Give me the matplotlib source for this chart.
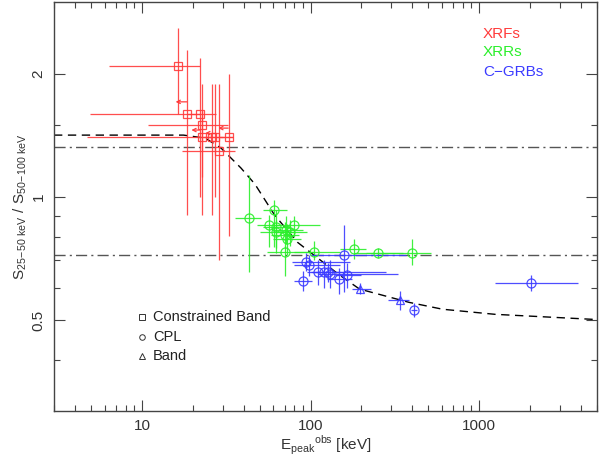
import matplotlib
matplotlib.use('Agg')
import matplotlib.pyplot as plt
from matplotlib.ticker import FixedLocator, FixedFormatter, NullFormatter

plt.rcParams['font.family'] = ['Liberation Sans', 'DejaVu Sans']
plt.rcParams['mathtext.fontset'] = 'custom'
plt.rcParams['mathtext.rm'] = 'Liberation Sans'

# XRFs (constrained Band)
xrf_ep = [16.3, 18.4, 21.9, 22.8, 22.8, 26.1, 27.2, 32.8, 28.7]
xrf_ep_lo = [6.4, 4.9, 18.4, 10.8, 4.7, 21.6, 23.2, 29.1, 17.2]
xrf_ep_hi = [21.9, 21.9, 27.5, 32.4, 26.1, 30.2, 34.6, 34.6, 35.6]
xrf_s = [2.09, 1.60, 1.60, 1.50, 1.40, 1.40, 1.40, 1.40, 1.30]
xrf_s_lo = [1.60, 0.904, 1.00, 0.904, 1.12, 0.904, 1.00, 0.803, 0.701]
xrf_s_hi = [2.59, 2.29, 2.19, 1.89, 1.62, 1.89, 1.89, 2.00, 1.89]
# upper limits on Epeak (arrows): start, end, ratio
arr_x0 = [18.4, 21.9, 24.7, 32.4]
arr_x1 = [15.8, 19.6, 23.7, 28.3]
arr_s = [1.71, 1.459, 1.434, 1.475]

# XRRs (CPL)
xrr_ep = [42.8, 60.3, 56.9, 61.9, 61.9, 71.8, 70.9, 72.8, 75.8, 80.0, 70.9, 104.8, 180, 252, 399]
xrr_ep_lo = [35.6, 51.9, 48, 52, 50, 60, 58, 60, 62, 62, 55, 80, 149, 180, 214]
xrr_ep_hi = [50.5, 72.8, 66, 75, 80, 90, 85, 88, 95, 113.7, 104, 149, 214, 353, 516]
xrr_s = [0.890, 0.929, 0.854, 0.845, 0.821, 0.830, 0.807, 0.789, 0.821, 0.854, 0.734, 0.734, 0.746, 0.729, 0.729]
xrr_s_lo = [0.655, 0.755, 0.755, 0.73, 0.75, 0.77, 0.75, 0.72, 0.76, 0.80, 0.64, 0.70, 0.705, 0.71, 0.682]
xrr_s_hi = [1.132, 0.983, 0.904, 0.93, 0.88, 0.90, 0.87, 0.86, 0.88, 0.90, 0.76, 0.78, 0.789, 0.75, 0.789]

# C-GRBs (CPL)
grb_ep = [93.2, 97.6, 90.4, 110, 119.5, 126, 130, 148, 164, 158, 410, 2037]
grb_ep_lo = [77.9, 80, 80, 95, 100, 105, 110, 125, 140, 99, 392, 1241]
grb_ep_hi = [170, 150, 102, 281, 160, 150, 330, 175, 200, 368, 430, 3860]
grb_s = [0.693, 0.681, 0.623, 0.655, 0.655, 0.655, 0.649, 0.631, 0.645, 0.720, 0.529, 0.616]
grb_s_lo = [0.66, 0.64, 0.59, 0.61, 0.60, 0.62, 0.60, 0.58, 0.60, 0.586, 0.51, 0.59]
grb_s_hi = [0.73, 0.72, 0.66, 0.70, 0.70, 0.69, 0.70, 0.67, 0.69, 0.854, 0.55, 0.645]
# C-GRBs (Band)
grbb_ep = [195, 340]
grbb_ep_lo = [175, 289]
grbb_ep_hi = [229, 383]
grbb_s = [0.596, 0.560]
grbb_s_lo = [0.58, 0.53]
grbb_s_hi = [0.615, 0.59]

# model curve
curve_ep = [3.0, 17.6, 23.7, 29.4, 38.6, 46.7, 61.1, 83.4, 149, 195, 384, 607, 1242, 5000]
curve_s = [1.418, 1.418, 1.394, 1.318, 1.178, 1.076, 0.904, 0.776, 0.644, 0.596, 0.553, 0.532, 0.517, 0.502]

# XRF/XRR and XRR/GRB boundaries
bound_s = [1.326, 0.721]

x_ticks = [10, 100, 1000]
x_labels = ['10', '100', '1000']
y_ticks = [0.5, 1, 2]
y_labels = ['0.5', '1', '2']

RED = '#ff3b3b'
GREEN = '#2bef2b'
BLUE = '#3b3bff'


def draw(ax, x, xlo, xhi, y, ylo, yhi, color, marker, ms):
    xerr = [[a - b for a, b in zip(x, xlo)], [b - a for a, b in zip(x, xhi)]]
    yerr = [[a - b for a, b in zip(y, ylo)], [b - a for a, b in zip(y, yhi)]]
    ax.errorbar(x, y, xerr=xerr, yerr=yerr, fmt=marker, ms=ms, mfc='none',
                mec=color, mew=0.9, ecolor=color, elinewidth=0.9, capsize=0, alpha=0.9)


fig = plt.figure(figsize=(6.02, 4.55), dpi=100)
ax = fig.add_axes([0.0897, 0.0967, 0.9020, 0.8989])
ax.set_xscale('log')
ax.set_yscale('log')
ax.set_xlim(3, 5000)
ax.set_ylim(0.3, 3)

for s in bound_s:
    ax.axhline(s, color='#555555', lw=1, ls=(0, (8, 3, 1.5, 3)))
ax.plot(curve_ep, curve_s, color='black', lw=1, ls=(0, (6, 4)))

draw(ax, xrf_ep, xrf_ep_lo, xrf_ep_hi, xrf_s, xrf_s_lo, xrf_s_hi, RED, 's', 5.5)
for a, b, s in zip(arr_x0, arr_x1, arr_s):
    ax.annotate('', xy=(b, s), xytext=(a, s),
                arrowprops=dict(arrowstyle='->', color=RED, lw=0.9,
                                mutation_scale=6, shrinkA=0, shrinkB=0))
draw(ax, xrr_ep, xrr_ep_lo, xrr_ep_hi, xrr_s, xrr_s_lo, xrr_s_hi, GREEN, 'o', 6.5)
draw(ax, grb_ep, grb_ep_lo, grb_ep_hi, grb_s, grb_s_lo, grb_s_hi, BLUE, 'o', 6.5)
draw(ax, grbb_ep, grbb_ep_lo, grbb_ep_hi, grbb_s, grbb_s_lo, grbb_s_hi, BLUE, '^', 6)

# class labels
ax.text(0.790, 0.922, 'XRFs', color=RED, fontsize=11, transform=ax.transAxes, va='center')
ax.text(0.790, 0.878, 'XRRs', color=GREEN, fontsize=11, transform=ax.transAxes, va='center')
ax.text(0.790, 0.829, 'C\u2212GRBs', color=BLUE, fontsize=11, transform=ax.transAxes, va='center')

# marker legend
leg_y = [0.230, 0.181, 0.134]
leg_txt = ['Constrained Band', 'CPL', 'Band']
leg_mk = ['s', 'o', '^']
for yy, t, m in zip(leg_y, leg_txt, leg_mk):
    ax.plot([0.162], [yy], marker=m, ms=4, mfc='none', mec='#333333', mew=0.7,
            transform=ax.transAxes, ls='none')
    ax.text(0.182, yy, t, fontsize=10.5, color='#222222', transform=ax.transAxes, va='center')

# ticks
ax.tick_params(which='both', direction='in', top=True, right=True, color='#444444')
ax.tick_params(which='major', length=8, width=0.8, labelsize=11, labelcolor='#333333')
ax.tick_params(which='minor', length=4, width=0.8)
ax.xaxis.set_major_locator(FixedLocator(x_ticks))
ax.xaxis.set_major_formatter(FixedFormatter(x_labels))
ax.yaxis.set_major_locator(FixedLocator(y_ticks))
ax.yaxis.set_major_formatter(FixedFormatter(y_labels))
ax.yaxis.set_minor_locator(FixedLocator([0.4, 0.6, 0.7, 0.8, 0.9, 1.5]))
ax.yaxis.set_minor_formatter(NullFormatter())
ax.xaxis.set_minor_formatter(NullFormatter())
for lab in ax.get_yticklabels():
    lab.set_rotation(90)
    lab.set_va('center')
ax.tick_params(axis='y', pad=6)
ax.tick_params(axis='x', pad=6)
for sp in ax.spines.values():
    sp.set_color('#444444')
    sp.set_linewidth(1)

ax.set_xlabel(r'E$_{\rm peak}$$^{\rm obs}$ [keV]', fontsize=11, color='#333333', labelpad=0)
ax.set_ylabel(r'S$_{\rm 25\!-\!50\ keV}$ / S$_{\rm 50\!-\!100\ keV}$', fontsize=11,
              color='#333333', labelpad=2)

fig.savefig('out.png', dpi=100)
